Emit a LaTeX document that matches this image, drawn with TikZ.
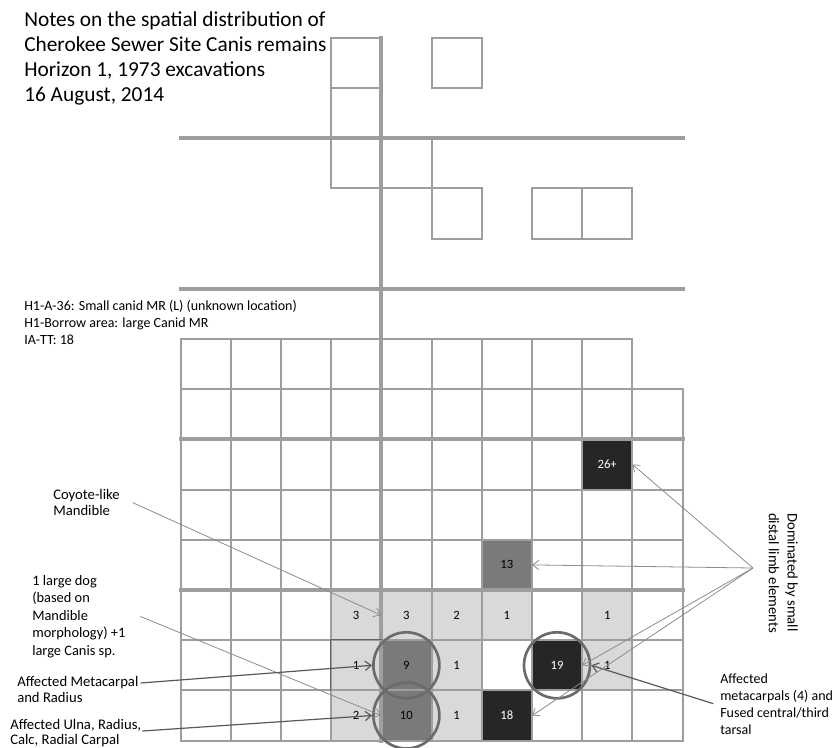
\documentclass[tikz,border=0pt]{standalone}
\usepackage{fontspec}
\setmainfont{Carlito}
\usetikzlibrary{positioning,arrows.meta,calc}

\begin{document}
\begin{tikzpicture}[x=0.75pt,y=-0.75pt,>={Straight Barb[length=4.5pt,width=7pt]},
   node distance=37.65pt,on grid,
   cell/.style={minimum size=37.65pt,inner sep=0pt,font=\fontsize{9.5}{11}\selectfont},
   light/.style={cell,fill=black!15},
   mid/.style={cell,fill=black!52},
   dark/.style={cell,fill=black!85,text=white},
   cellline/.style={draw=black!38,line width=1.5pt},
   trench/.style={draw=black!38,line width=3pt},
   ring/.style={circle,draw=black!58,line width=2pt,minimum size=49.5pt,inner sep=0pt},
   note/.style={align=left,inner sep=0pt,anchor=north west,font=\fontsize{11}{12.3}\selectfont},
   pointer/.style={->,draw=black!45,line width=0.6pt},
   heavy pointer/.style={->,draw=black!65,line width=0.9pt}]
 \useasboundingbox (0,0) rectangle (837,747);
 \node[light] (p3) at (356.2,615.1) {3};
 \node[light] (p4) [right=of p3] {3};
 \node[light] (p5) [right=of p4] {2};
 \node[light] (p6) [right=of p5] {1};
 \node[light] (p8) [right=75.3pt of p6] {1};
 \node[light] (q3) [below=of p3] {1};
 \node[mid] (n9) [right=of q3] {9};
 \node[light] (q5) [right=of n9] {1};
 \node[dark] (n19) [right=75.3pt of q5] {19};
 \node[light] (q8) [right=of n19] {1};
 \node[light] (s3) [below=of q3] {2};
 \node[mid] (n10) [right=of s3] {10};
 \node[light] (s5) [right=of n10] {1};
 \node[dark] (n18) [right=of s5] {18};
 \node[mid] (n13) [above=of p6] {13};
 \node[dark] (n26) [above=112.95pt of p8] {26+};
 \begin{scope}[shift={(180.5,339)},x=37.65pt,y=-37.65pt,line cap=rect]
  \foreach \r in {1,...,8} \draw[cellline] (0,\r) -- (10,\r);
  \draw[cellline] (0,0) -- (9,0);
  \foreach \c in {0,...,9} \draw[cellline] (\c,0) -- (\c,8);
  \draw[cellline] (10,1) -- (10,8);
  \draw[cellline] (3,-6) rectangle (4,-4) (3,-5) -- (4,-5) (5,-6) rectangle (6,-5)
    (3,-4) rectangle (5,-3) (5,-3) rectangle (6,-2) (7,-3) rectangle (9,-2) (8,-3) -- (8,-2);
  \draw[trench] (0,-4) -- (10,-4) (0,-1) -- (10,-1) (0,2) -- (10,2) (0,5) -- (10,5) (4,-6) -- (4,8);
 \end{scope}
 \draw[black!62,line width=0.8pt] (q3.south west) -- (q3.north west) -- (q3.north east);
 \node[ring] (ring9) at (n9) {};
 \node[ring] (ring10) at (n10) {};
 \node[ring] (ring19) at (n19) {};
 \node[note,font=\fontsize{16}{18.9}\selectfont] (title) at (24,11) {Notes on the spatial distribution of\\Cherokee Sewer Site Canis remains\\Horizon 1, 1973 excavations\\16 August, 2014};
 \node[note,font=\fontsize{10.5}{12.75}\selectfont] (finds) at (24,300) {H1-A-36: Small canid MR (L) (unknown location)\\H1-Borrow area: large Canid MR\\IA-TT: 18};
 \node[note] (coyote) at (53,489) {Coyote-like\\Mandible};
 \node[note,font=\fontsize{10.8}{13.1}\selectfont] (dog) at (32,575) {1 large dog\\(based on\\Mandible\\morphology) +1\\large Canis sp.};
 \node[note,font=\fontsize{11}{12}\selectfont] (meta) at (17,676) {Affected Metacarpal\\and Radius};
 \node[note,font=\fontsize{11}{11.5}\selectfont] (ulna) at (10,719) {Affected Ulna, Radius,\\Calc, Radial Carpal};
 \node[note,font=\fontsize{10.5}{12.75}\selectfont] (fused) at (720,673) {Affected\\metacarpals (4) and\\Fused central/third\\tarsal};
 \node[note,rotate=-90,font=\fontsize{11}{14}\selectfont] (dominant) at (798,513) {Dominated by small\\distal limb elements};
 \coordinate (hub) at (753,568);
 \draw[pointer] ([xshift=9.5pt]coyote.east) -- (p4.west);
 \draw[pointer] ([xshift=11pt]dog.east) -- (n10.west);
 \draw[heavy pointer] ($(meta.north east)+(2,7)$) -- (ring9.west);
 \draw[heavy pointer] ($(ulna.north east)+(1,12)$) -- (ring10.west);
 \draw[heavy pointer] ([xshift=-5pt]fused.west) -- (ring19.east);
 \foreach \t in {n26,n13,n19,n18} \draw[pointer] (hub) -- (\t.east);
\end{tikzpicture}
\end{document}
